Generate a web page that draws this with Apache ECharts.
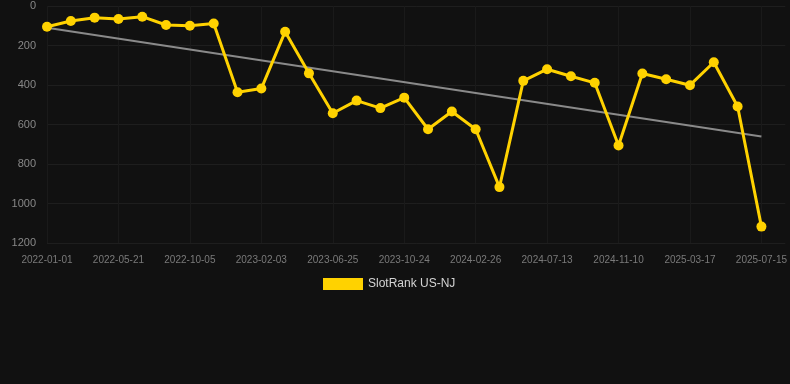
<!DOCTYPE html>
<html>
<head>
<meta charset="utf-8">
<script src="https://cdn.jsdelivr.net/npm/echarts@6/dist/echarts.min.js"></script>
<style>
  html, body { margin: 0; padding: 0; background: #111111; }
  #chart { width: 790px; height: 384px; }
</style>
</head>
<body>
<div id="chart"></div>
<script>
// dates on the category axis (every 3rd one is labelled), last slot left empty
const dates = [
    '2022-01-01', '2022-02-16', '2022-04-04',
    '2022-05-21', '2022-07-06', '2022-08-21',
    '2022-10-05', '2022-11-14', '2022-12-25',
    '2023-02-03', '2023-03-22', '2023-05-08',
    '2023-06-25', '2023-08-04', '2023-09-13',
    '2023-10-24', '2023-12-05', '2024-01-15',
    '2024-02-26', '2024-04-12', '2024-05-28',
    '2024-07-13', '2024-08-22', '2024-10-01',
    '2024-11-10', '2024-12-22', '2025-02-02',
    '2025-03-17', '2025-04-26', '2025-06-05',
    '2025-07-15', ''
];
const rankValues = [
    105, 76, 59, 66, 54, 96, 100, 89, 437, 418,
    130, 341, 543, 479, 517, 464, 624, 534, 624, 917,
    379, 320, 356, 389, 706, 342, 371, 401, 285, 509,
    1117
];
// trend line end points (first and last date)
const trendStart = 110;
const trendEnd = 661;
const yTicks = { min: 0, max: 1200, interval: 200 };

const trendData = rankValues.map(() => null);
trendData[0] = trendStart;
trendData[rankValues.length - 1] = trendEnd;

const chart = echarts.init(document.getElementById('chart'));
chart.setOption({
    backgroundColor: '#111111',
    animation: false,
    grid: { left: 47, right: 4, top: 6, bottom: 141 },
    legend: {
        data: ['SlotRank US-NJ'],
        left: 318,
        top: 273,
        itemWidth: 40,
        itemHeight: 12,
        itemGap: 10,
        icon: 'rect',
        textStyle: { color: '#d4d4d4', fontSize: 12, fontFamily: 'Liberation Sans, Arial, sans-serif' }
    },
    xAxis: {
        type: 'category',
        data: dates,
        boundaryGap: false,
        axisLine: { show: false },
        axisTick: { show: false },
        axisLabel: {
            interval: 2,
            color: '#7a7a7a',
            fontSize: 10,
            margin: 12,
            fontFamily: 'Liberation Sans, Arial, sans-serif'
        },
        splitLine: { show: true, interval: 2, lineStyle: { color: '#1a1a1a', width: 1 } }
    },
    yAxis: {
        type: 'value',
        inverse: true,
        min: yTicks.min,
        max: yTicks.max,
        interval: yTicks.interval,
        axisLine: { show: false },
        axisTick: { show: false },
        axisLabel: {
            color: '#888888',
            fontSize: 11,
            margin: 11,
            formatter: (v) => String(v),
            fontFamily: 'Liberation Sans, Arial, sans-serif'
        },
        splitLine: { lineStyle: { color: '#1e1e1e', width: 1 } }
    },
    series: [
        {
            name: 'Trend',
            type: 'line',
            data: trendData,
            connectNulls: true,
            showSymbol: false,
            symbol: 'none',
            lineStyle: { color: '#8a8a8a', width: 2 },
            z: 1
        },
        {
            name: 'SlotRank US-NJ',
            type: 'line',
            data: rankValues,
            symbol: 'circle',
            symbolSize: 10,
            itemStyle: { color: '#ffd200' },
            lineStyle: { color: '#ffd200', width: 3 },
            z: 2
        }
    ]
});
</script>
</body>
</html>
